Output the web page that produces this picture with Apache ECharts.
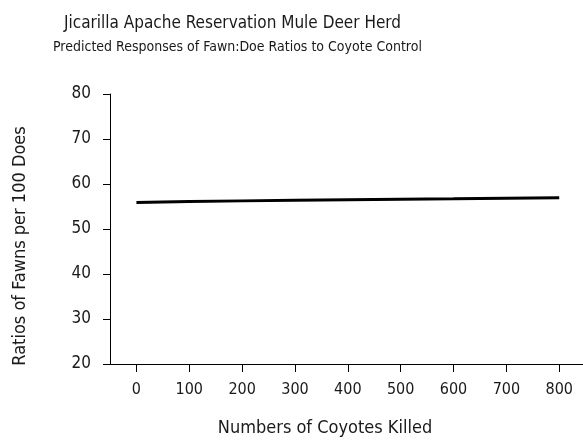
<!DOCTYPE html>
<html>
<head>
<meta charset="utf-8">
<script src="https://cdn.jsdelivr.net/npm/echarts@6/dist/echarts.min.js"></script>
<style>
  html, body { margin: 0; padding: 0; background: #fff; }
  #main { width: 583px; height: 441px; }
</style>
</head>
<body>
<div id="main"></div>
<script>
  // coyotes killed
  var coyotesKilled = [0, 100, 200, 300, 400, 500, 600, 700, 800];
  // predicted fawns per 100 does
  var fawnRatio = [55.9, 56.1, 56.25, 56.4, 56.5, 56.6, 56.7, 56.85, 56.95];
  var xTicks = [0, 100, 200, 300, 400, 500, 600, 700, 800];

  var font = "'Liberation Sans Narrow', 'DejaVu Sans Condensed', sans-serif";
  var txt = '#1a1a1a';

  var myChart = echarts.init(document.getElementById('main'));
  var option = {
    backgroundColor: '#fff',
    animation: false,
    title: [
      {
        text: 'Jicarilla Apache Reservation Mule Deer Herd',
        left: 59, top: 10,
        textStyle: { fontFamily: font, fontSize: 17, fontWeight: 'normal', color: txt }
      },
      {
        text: 'Predicted Responses of Fawn:Doe Ratios to Coyote Control',
        left: 48, top: 35,
        textStyle: { fontFamily: font, fontSize: 14, fontWeight: 'normal', color: txt }
      }
    ],
    grid: { left: 110, right: 0, top: 94, bottom: 77 },
    xAxis: {
      type: 'value',
      min: -50,
      max: 845,
      axisLine: { show: true, onZero: false, lineStyle: { color: '#000', width: 1 } },
      axisTick: { show: true, length: 8, customValues: xTicks, lineStyle: { color: '#000' } },
      axisLabel: {
        customValues: xTicks,
        margin: 18,
        fontFamily: font, fontSize: 16, color: txt
      },
      splitLine: { show: false }
    },
    yAxis: {
      type: 'value',
      min: 20,
      max: 80,
      interval: 10,
      axisLine: { show: true, onZero: false, lineStyle: { color: '#000', width: 1 } },
      axisTick: { show: true, length: 7, lineStyle: { color: '#000' } },
      axisLabel: { margin: 19, fontFamily: font, fontSize: 17, color: txt },
      splitLine: { show: false }
    },
    graphic: [
      {
        type: 'text',
        x: 325, y: 428,
        style: {
          text: 'Numbers of Coyotes Killed',
          fontFamily: font, fontSize: 18, fill: txt,
          textAlign: 'center', textVerticalAlign: 'middle'
        }
      },
      {
        type: 'text',
        x: 20, y: 246,
        rotation: Math.PI / 2,
        style: {
          text: 'Ratios of Fawns per 100 Does',
          fontFamily: font, fontSize: 18, fill: txt,
          textAlign: 'center', textVerticalAlign: 'middle'
        }
      }
    ],
    series: [
      {
        name: 'Fawn:Doe',
        type: 'line',
        data: coyotesKilled.map(function (x, i) { return [x, fawnRatio[i]]; }),
        symbol: 'none',
        lineStyle: { color: '#000', width: 3 },
        itemStyle: { color: '#000' }
      }
    ]
  };
  myChart.setOption(option);
</script>
</body>
</html>
